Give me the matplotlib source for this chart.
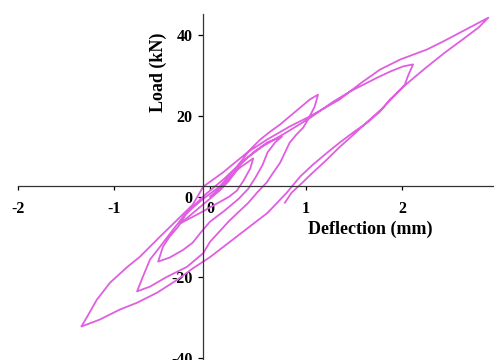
import matplotlib
matplotlib.use("Agg")

import matplotlib.pyplot as plt
import numpy as np

# deflection (mm) / load (kN), one cycle at a time
cycle1_defl = [0.0, 0.1, 0.2, 0.3, 0.45, 0.42, 0.35, 0.28, 0.2, 0.05, -0.1, -0.3,
               -0.2, -0.1, 0.0, 0.1]
cycle1_load = [0.0, 2.0, 4.5, 7.0, 9.5, 7.0, 4.0, 1.5, 0.0, -2.0, -4.0, -6.5,
               -4.5, -2.5, -0.5, 1.5]

cycle2_defl = [0.2, 0.32, 0.45, 0.6, 0.75, 0.68, 0.6, 0.55, 0.48, 0.4, 0.3, 0.15, 0.0,
               -0.1, -0.18, -0.28, -0.42, -0.54,
               -0.49, -0.42, -0.33, -0.24, -0.08, 0.1]
cycle2_load = [4.0, 8.0, 11.0, 13.5, 14.9, 13.5, 11.0, 8.0, 5.0, 2.0, -0.5, -3.5, -6.2,
               -9.0, -11.4, -13.2, -15.1, -16.1,
               -12.4, -9.9, -7.4, -4.0, -0.7, 2.5]

cycle3_defl = [0.25, 0.42, 0.52, 0.625, 0.73, 0.83, 0.94, 1.04, 1.125,
               1.09, 1.02, 0.97, 0.9, 0.83, 0.78, 0.73, 0.66, 0.59, 0.49, 0.4, 0.2, 0.0,
               -0.07, -0.24, -0.45, -0.625, -0.76,
               -0.70, -0.625, -0.52, -0.385, -0.28, -0.18, -0.05]
cycle3_load = [6.5, 11.7, 14.1, 16.1, 17.9, 19.9, 22.1, 24.1, 25.3,
               22.3, 19.1, 17.1, 15.4, 13.4, 10.9, 8.4, 6.0, 3.5, 1.0, -1.5, -6.0, -11.2,
               -14.0, -17.4, -19.9, -22.3, -23.5,
               -19.9, -15.6, -12.4, -8.2, -5.0, -2.5, 0.5]

cycle4_defl = [0.15, 0.35, 0.55, 0.8, 1.04, 1.28, 1.46, 1.6, 1.74, 1.875, 2.01, 2.115,
               2.06, 2.03, 1.95, 1.875, 1.77, 1.64, 1.49, 1.35, 1.22, 1.07, 0.94, 0.8,
               0.6, 0.3, 0.0, -0.18, -0.34, -0.55, -0.76, -0.94, -1.15, -1.34,
               -1.28, -1.18, -1.04, -0.86, -0.73, -0.52, -0.31, -0.18]
cycle4_load = [4.5, 9.0, 12.5, 16.0, 19.5, 23.5, 26.1, 27.8, 29.5, 31.0, 32.3, 32.8,
               29.8, 27.8, 25.8, 24.1, 21.1, 18.4, 15.9, 13.4, 10.9, 7.9, 5.0, 1.0,
               -4.0, -9.5, -15.0, -17.8, -20.6, -23.8, -26.3, -28.0, -30.5, -32.2,
               -29.8, -25.6, -21.3, -17.4, -14.9, -9.9, -5.0, -2.0]

cycle5_defl = [-0.07, 0.135, 0.385, 0.59, 0.83, 1.04, 1.35, 1.58, 1.77, 1.98, 2.26,
               2.43, 2.66, 2.9,
               2.8, 2.65, 2.45, 2.25, 2.05, 1.95, 1.8, 1.65, 1.5, 1.35, 1.2, 1.05,
               0.95, 0.85, 0.78]
cycle5_load = [2.5, 6.0, 10.9, 14.1, 17.4, 19.9, 24.1, 28.3, 31.5, 34.0, 36.5,
               38.5, 41.4, 44.4,
               42.0, 39.3, 35.8, 32.0, 28.0, 25.8, 22.0, 18.8, 15.5, 12.3, 8.8, 5.5,
               3.2, 1.0, -1.5]

x_ticks = [-2, -1, 0, 1, 2, 3]
y_ticks = [-40, -20, 0, 20, 40]

defl = np.concatenate([cycle1_defl, cycle2_defl, cycle3_defl, cycle4_defl, cycle5_defl])
load = np.concatenate([cycle1_load, cycle2_load, cycle3_load, cycle4_load, cycle5_load])

plt.rcParams["font.family"] = "Liberation Serif"
plt.rcParams["font.weight"] = "bold"
plt.rcParams["axes.unicode_minus"] = False

fig = plt.figure(figsize=(4.94, 3.6), dpi=100)
ax = fig.add_axes([18 / 494, -2 / 360, 480 / 494, 348 / 360])

ax.plot(defl, load, color="#df5fe0", lw=1.3, solid_joinstyle="round")

ax.set_xlim(-2, 3)
ax.set_ylim(-41, 45.3)

for side in ("top", "right"):
    ax.spines[side].set_visible(False)
ax.spines["left"].set_position(("data", -0.075))
ax.spines["bottom"].set_position(("data", 2.7))
for side in ("left", "bottom"):
    ax.spines[side].set_color("#333333")
    ax.spines[side].set_linewidth(0.9)

ax.set_xticks(x_ticks)
ax.set_yticks(y_ticks)
ax.tick_params(axis="x", direction="out", length=3, width=0.9, pad=8, labelsize=11.5)
ax.tick_params(axis="y", direction="out", length=3.5, width=0.9, pad=4, labelsize=11.5)
for lbl in ax.get_xticklabels() + ax.get_yticklabels():
    lbl.set_fontweight("bold")

fig.text(370 / 494, 1 - 229 / 360, "Deflection (mm)", ha="center", va="center",
         fontsize=13, fontweight="bold")
fig.text(158 / 494, 1 - 72 / 360, "Load (kN)", ha="center", va="center",
         rotation=90, fontsize=13, fontweight="bold")

fig.savefig("out.png", dpi=100)
